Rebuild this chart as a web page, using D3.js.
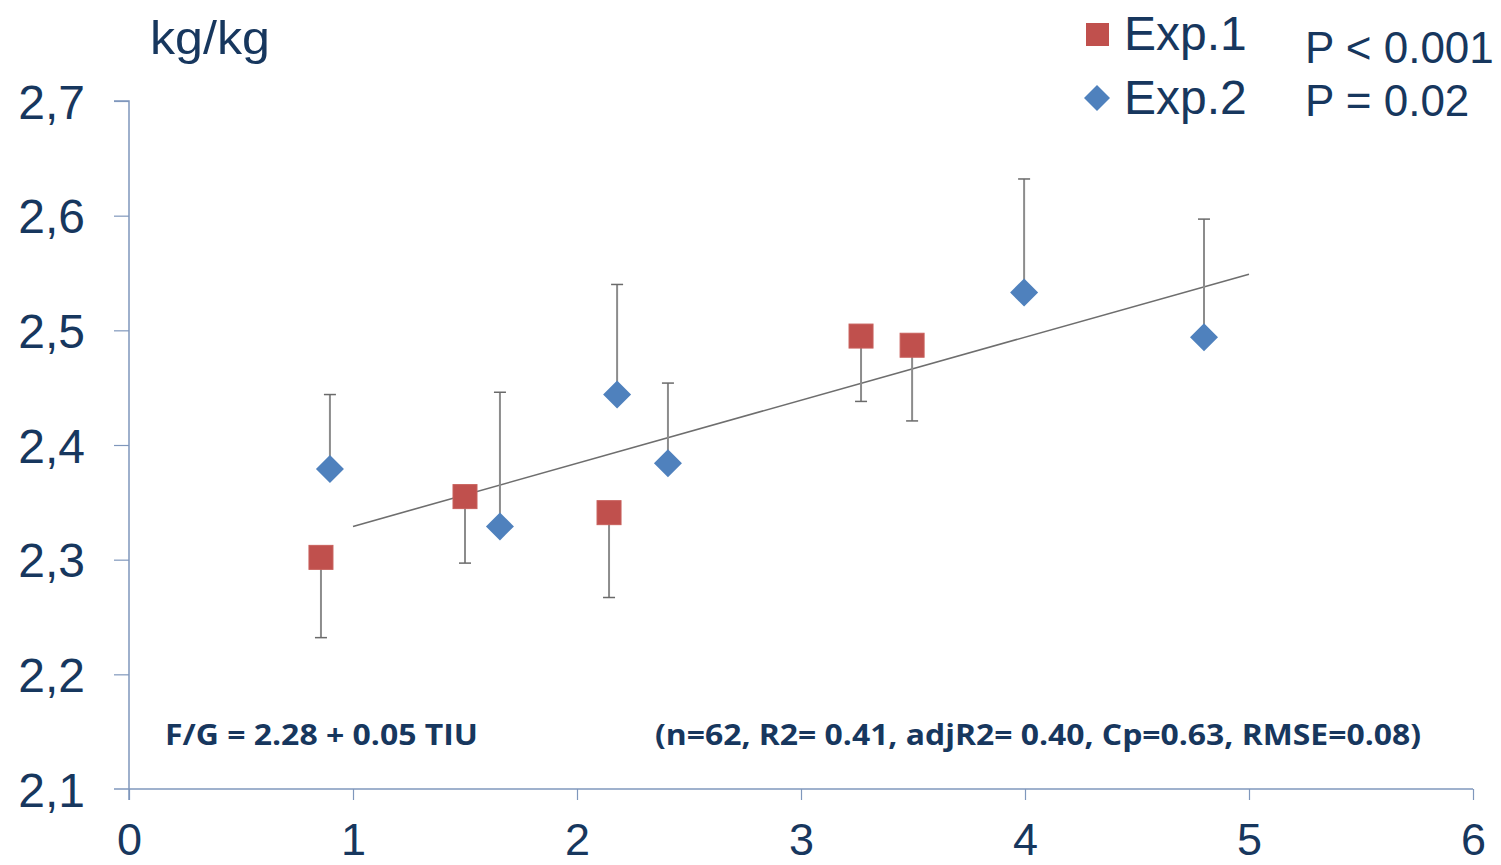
<!DOCTYPE html>
<html><head><meta charset="utf-8">
<script src="https://cdn.jsdelivr.net/npm/d3@7"></script>
<style>body{margin:0;background:#fff;} svg{display:block;}</style>
</head><body>
<script>
// ---- data ----
const exp1X = [0.857, 1.50, 2.143, 3.268, 3.496];
const exp1Y = [2.302, 2.355, 2.341, 2.495, 2.487];
const exp1Err = [0.070, 0.058, 0.074, 0.057, 0.066];   // error bars downward

const exp2X = [0.897, 1.656, 2.179, 2.406, 3.996, 4.799];
const exp2Y = [2.379, 2.329, 2.444, 2.384, 2.533, 2.494];
const exp2Err = [0.065, 0.117, 0.096, 0.070, 0.099, 0.103]; // error bars upward

const lineX = [1, 5];
const lineY = [2.329, 2.549];

const xTicks = [0, 1, 2, 3, 4, 5, 6];
const yTicks = [2.1, 2.2, 2.3, 2.4, 2.5, 2.6, 2.7];
const seriesNames = ["Exp.1", "Exp.2"];
const pLabels = ["P < 0.001", "P = 0.02"];
const yUnit = "kg/kg";
const eqText = "F/G = 2.28 + 0.05 TIU";
const statsText = "(n=62, R2= 0.41, adjR2= 0.40, Cp=0.63, RMSE=0.08)";

// ---- drawing ----
const W = 1501, H = 865;
const navy = "#17375E", axisCol = "#7F97BC";
const red = "#C0504D", blue = "#4F81BD", errCol = "#8C8C8C";
const font = "'Liberation Sans', Arial, sans-serif";

const svg = d3.select("body").append("svg").attr("width", W).attr("height", H);
const x = d3.scaleLinear().domain([0, 6]).range([129, 1473]);
const y = d3.scaleLinear().domain([2.1, 2.7]).range([789, 101]);

// axes
const xAxis = d3.axisBottom(x).tickValues(xTicks).tickSize(11).tickFormat(d3.format("d"));
const gx = svg.append("g").attr("transform", `translate(0,${y(2.1)})`).call(xAxis);
gx.select(".domain").attr("stroke", axisCol).attr("stroke-width", 1.5).attr("d", `M${x(0)-15},0H${x(6)}`);
gx.selectAll(".tick line").attr("stroke", axisCol).attr("stroke-width", 1.2);
gx.selectAll(".tick text").attr("fill", navy).attr("font-family", font).attr("font-size", 45)
  .attr("y", 66).attr("dy", 0);

const yAxis = d3.axisLeft(y).tickValues(yTicks).tickSize(15).tickFormat(d => d3.format(".1f")(d).replace(".", ","));
const gy = svg.append("g").attr("transform", `translate(${x(0)},0)`).call(yAxis);
gy.select(".domain").attr("stroke", axisCol).attr("stroke-width", 1.5).attr("d", `M-15,${y(2.7)}H0V${y(2.1)+11}`);
gy.selectAll(".tick line").attr("stroke", axisCol).attr("stroke-width", 1.2);
gy.selectAll(".tick text").attr("fill", navy).attr("font-family", font).attr("font-size", 48)
  .attr("x", -44).attr("dy", "0.36em");
gy.selectAll(".tick").filter(d => d === 2.1).select("line").remove();

// regression line
svg.append("line")
  .attr("x1", x(lineX[0])).attr("y1", y(lineY[0]))
  .attr("x2", x(lineX[1])).attr("y2", y(lineY[1]))
  .attr("stroke", "#6E6E6E").attr("stroke-width", 1.6);

// error bars
const e1 = exp1X.map((v, i) => ({x: v, y: exp1Y[i], e: -exp1Err[i]}));
const e2 = exp2X.map((v, i) => ({x: v, y: exp2Y[i], e: exp2Err[i]}));
const errs = svg.append("g");
[...e1, ...e2].forEach(d => {
  errs.append("line").attr("x1", x(d.x)).attr("x2", x(d.x)).attr("y1", y(d.y)).attr("y2", y(d.y + d.e))
    .attr("stroke", errCol).attr("stroke-width", 2);
  errs.append("line").attr("x1", x(d.x) - 6).attr("x2", x(d.x) + 6).attr("y1", y(d.y + d.e)).attr("y2", y(d.y + d.e))
    .attr("stroke", "#6A6A6A").attr("stroke-width", 1.5);
});

// markers
const sq = 24, dm = 14;
svg.append("g").selectAll("rect").data(e1).join("rect")
  .attr("x", d => x(d.x) - sq/2).attr("y", d => y(d.y) - sq/2)
  .attr("width", sq).attr("height", sq).attr("fill", red).attr("stroke", "#C8605C").attr("stroke-width", 1);
svg.append("g").selectAll("path").data(e2).join("path")
  .attr("d", d => `M${x(d.x)},${y(d.y)-dm}L${x(d.x)+dm},${y(d.y)}L${x(d.x)},${y(d.y)+dm}L${x(d.x)-dm},${y(d.y)}Z`)
  .attr("fill", blue);

// unit label
svg.append("text").attr("x", 150).attr("y", 54).attr("fill", navy).attr("font-family", font)
  .attr("font-size", 47).attr("textLength", 120).attr("lengthAdjust", "spacingAndGlyphs").text(yUnit);

// legend
const lg = svg.append("g");
lg.append("rect").attr("x", 1086).attr("y", 23).attr("width", 23).attr("height", 23).attr("fill", red);
lg.append("path").attr("d", "M1097,85L1110,98L1097,111L1084,98Z").attr("fill", blue);
lg.selectAll("text.s").data(seriesNames).join("text").attr("class", "s")
  .attr("x", 1124).attr("y", (d, i) => 50 + i * 64).attr("fill", navy).attr("font-family", font)
  .attr("font-size", 48).text(d => d);
lg.selectAll("text.p").data(pLabels).join("text").attr("class", "p")
  .attr("x", 1305).attr("y", (d, i) => 63 + i * 53).attr("fill", navy).attr("font-family", font)
  .attr("font-size", 44).text(d => d);

// annotations
svg.append("text").attr("x", 165).attr("y", 745).attr("fill", navy).attr("font-family", "'Open Sans', sans-serif")
  .attr("font-weight", "bold").attr("font-size", 29).attr("textLength", 313).attr("lengthAdjust", "spacingAndGlyphs")
  .text(eqText);
svg.append("text").attr("x", 655).attr("y", 745).attr("fill", navy).attr("font-family", "'Open Sans', sans-serif")
  .attr("font-weight", "bold").attr("font-size", 29).attr("textLength", 766).attr("lengthAdjust", "spacingAndGlyphs")
  .text(statsText);
</script>
</body></html>
